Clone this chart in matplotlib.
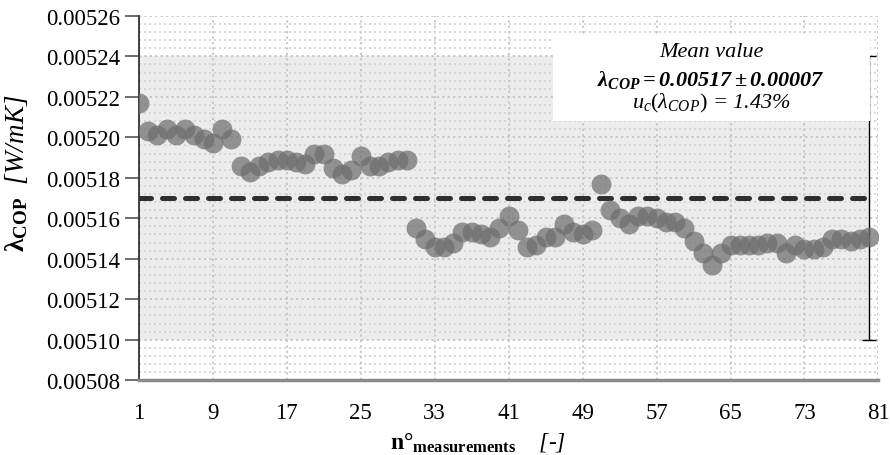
import matplotlib.pyplot as plt
from matplotlib.patches import Rectangle
from matplotlib.ticker import MultipleLocator, FormatStrFormatter

plt.rcParams['font.family'] = ['Liberation Serif', 'DejaVu Serif']
plt.rcParams['mathtext.fontset'] = 'custom'
plt.rcParams['mathtext.rm'] = 'Liberation Serif'
plt.rcParams['mathtext.it'] = 'Liberation Serif:italic'
plt.rcParams['mathtext.bf'] = 'Liberation Serif:bold'
plt.rcParams['mathtext.bfit'] = 'Liberation Serif:bold:italic'

measurements = list(range(1, 81))
lambda_cop = [
    0.005217, 0.005203, 0.005201, 0.005204, 0.005201, 0.005204, 0.005201, 0.005199, 0.005197, 0.005204,
    0.005199, 0.005186, 0.005183, 0.005186, 0.005188, 0.005189, 0.005189, 0.005188, 0.005187, 0.005192,
    0.005192, 0.005185, 0.005182, 0.005184, 0.005191, 0.005186, 0.005186, 0.005188, 0.005189, 0.005189,
    0.005155, 0.005150, 0.005146, 0.005146, 0.005148, 0.005153, 0.005153, 0.005152, 0.005151, 0.005155,
    0.005161, 0.005154, 0.005146, 0.005147, 0.005151, 0.005151, 0.005157, 0.005153, 0.005152, 0.005154,
    0.005177, 0.005164, 0.005160, 0.005157, 0.005161, 0.005161, 0.005160, 0.005158, 0.005158, 0.005155,
    0.005149, 0.005143, 0.005137, 0.005143, 0.005147, 0.005147, 0.005147, 0.005147, 0.005148, 0.005148,
    0.005143, 0.005147, 0.005145, 0.005145, 0.005146, 0.005150, 0.005150, 0.005149, 0.005150, 0.005151,
]
mean_value = 0.00517
uncertainty = 0.00007
x_ticks = list(range(1, 82, 8))

fig = plt.figure(figsize=(8.9, 4.56), dpi=100)
ax = fig.add_axes([0.156, 0.164, 0.831, 0.799])

# uncertainty band
ax.fill_between([measurements[0], measurements[-1]], mean_value - uncertainty, mean_value + uncertainty,
                color='#ececec', lw=0, zorder=0.2)

ax.scatter(measurements, lambda_cop, s=205, color='#6e6e6e', alpha=0.72, lw=0, zorder=3)
ax.plot([measurements[0], measurements[-1]], [mean_value, mean_value], color='#2e2e2e', lw=3.6,
        ls=(0, (2.4, 2.2)), dash_capstyle='round', zorder=2.5)
ax.errorbar(measurements[-1], mean_value, yerr=uncertainty, color='black', lw=1, capsize=5,
            capthick=1, zorder=2)

ax.set_xlim(1, 81)
ax.set_ylim(0.00508, 0.00526)
ax.set_xticks(x_ticks)
ax.yaxis.set_major_locator(MultipleLocator(0.00002))
ax.yaxis.set_minor_locator(MultipleLocator(0.000004))
ax.yaxis.set_major_formatter(FormatStrFormatter('%.5f'))

ax.set_axisbelow(True)
ax.grid(which='major', axis='both', color='#c4c4c4', ls=(0, (1.2, 1.8)), lw=1.3)
ax.grid(which='minor', axis='y', color='#d2d2d2', ls=(0, (1.2, 1.8)), lw=1.2)

for side in ['top', 'right']:
    ax.spines[side].set_visible(False)
ax.spines['left'].set_color('#333333')
ax.spines['left'].set_linewidth(1.3)
ax.spines['bottom'].set_color('#8a8a8a')
ax.spines['bottom'].set_linewidth(2.5)

ax.tick_params(axis='y', which='major', length=10, width=1.2, color='#555555', labelsize=16.5, pad=3.5)
ax.tick_params(axis='y', which='minor', length=0)
ax.tick_params(axis='x', length=0, labelsize=16.5, pad=16)

ax.set_ylabel(r'$\mathbf{λ_{COP}}$  [W/mK]', fontsize=19.5, style='italic')
ax.yaxis.set_label_coords(-0.147, 0.571)
ax.set_xlabel(r'$\mathbf{n°_{measurements}}$    [-]', fontsize=17, style='italic')
ax.xaxis.set_label_coords(0.459, -0.137)

# annotation box
ax.add_patch(Rectangle((0.560, 0.712), 0.429, 0.233, transform=ax.transAxes, facecolor='white',
                       edgecolor='none', zorder=4))
ax.text(0.774, 0.902, 'Mean value', transform=ax.transAxes, ha='center', va='center',
        fontsize=16, style='italic', zorder=5)
ax.text(0.774, 0.828, r'$\mathbfit{λ_{COP} = 0.00517 \pm 0.00007}$',
        transform=ax.transAxes, ha='center', va='center', fontsize=16, zorder=5)
ax.text(0.774, 0.762, r'$\mathit{u_c(λ_{COP})}$ = 1.43%', transform=ax.transAxes, ha='center', va='center',
        fontsize=16, style='italic', zorder=5)

plt.savefig('out.png', dpi=100)
